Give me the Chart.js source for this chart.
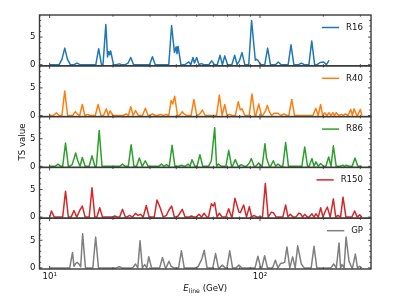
<!DOCTYPE html>
<html><head><meta charset="utf-8">
<script src="https://cdn.jsdelivr.net/npm/chart.js@4/dist/chart.umd.min.js"></script>
<style>
html,body{margin:0;padding:0;background:#fff;}
#wrap{position:relative;width:399px;height:299px;overflow:hidden;}
canvas{display:block;}
#xt{position:absolute;left:39.5px;width:331.5px;top:283px;text-align:center;font-family:'DejaVu Sans';font-size:8.6px;line-height:10px;color:#111;}
#xt sub{font-size:6.2px;vertical-align:-1.8px;line-height:0;}
</style>
</head><body>
<div id="wrap"><canvas id="c" width="399" height="299"></canvas><div id="xt"><i>E</i><sub>line</sub> (GeV)</div></div>
<script>
// ---- data (E in GeV, TS value) ----
const seriesNames = ['R16', 'R40', 'R86', 'R150', 'GP'];

const r16E  = [10, 11.45, 11.8, 12.15, 13.5, 17.1, 18.5, 18.85, 19.1, 19.3, 19.5, 21.4, 23.6, 24.3, 30.8, 38.0, 39.2, 39.9, 40.3, 40.8, 45.4, 45.9, 46.9, 48.0, 48.8, 50.0, 52.6, 58.9, 64.6, 68.0, 75.8, 80.0, 82.1, 91.2, 95.0, 96.4, 98.0, 108.7, 122.2, 140.4, 157.3, 176.2, 192.9, 200.8, 213];
const r16TS = [0, 1.0, 3.0, 1.0, 0.3, 2.9, 7.3, 1.4, 2.4, 1.8, 2.5, 0.15, 0.3, 1.3, 1.45, 7.1, 2.2, 3.2, 2.0, 3.3, 0.4, 0.5, 0, 1.3, 0.3, 1.3, 0.2, 0.7, 1.7, 1.6, 1.7, 0.8, 2.2, 8.0, 0.8, 1.0, 0.7, 3.0, 0.5, 3.6, 0.3, 4.3, 0.4, 0.5, 0.8];

const r40E  = [10, 10.76, 11.8, 13.25, 13.5, 14.3, 15.1, 17.0, 18.6, 19.0, 19.4, 23.1, 24.3, 25.6, 28.5, 30.8, 33.6, 35.9, 37.8, 38.5, 39.3, 42.7, 43.3, 48.5, 52.0, 53.2, 64.1, 68.0, 71.5, 78.8, 80.6, 82.1, 91.6, 98.6, 106.4, 108.4, 110.7, 116.6, 121.8, 130.1, 141.5, 184.1, 194.2, 198.5, 203, 212.8, 217.3, 222, 226, 230.5, 243.6, 249, 254.7, 270, 275, 279.8, 299.9, 305];
const r40TS = [0, 0.5, 4.45, 0.7, 0.3, 2.0, 0.2, 2.0, 1.2, 0, 0.85, 0.3, 1.6, 0.9, 1.3, 0.3, 0.2, 0.2, 2.7, 2.1, 3.5, 0.7, 0.4, 2.9, 0.4, 1.0, 3.7, 2.0, 0.2, 2.5, 1.0, 1.2, 3.9, 2.1, 0.9, 1.8, 0.7, 0.4, 0.4, 0.3, 2.9, 1.3, 2.0, 0, 0.5, 0.5, 0, 0.5, 0, 0.5, 0.2, 0, 0.3, 1.1, 0, 1.2, 1.1, 0];

const r86E  = [10, 10.96, 11.9, 12.8, 13.3, 13.6, 14.3, 15.9, 17.2, 22.2, 24.4, 26.7, 28.5, 34.0, 35.9, 38.2, 42.3, 45.5, 46.5, 47.5, 51.8, 58.7, 60.9, 62.2, 63.4, 71.0, 76.3, 81.5, 89.0, 90.9, 98.6, 105.6, 107.4, 115.7, 121.8, 132.4, 163.1, 176.6, 180.5, 184.5, 194.2, 212.1, 223.2, 248, 252.5, 257, 282.9, 305];
const r86TS = [0, 0.4, 4.2, 0.3, 2.4, 1.0, 1.6, 1.9, 6.5, 0.4, 3.9, 1.5, 1.0, 0.4, 0.3, 3.8, 0.2, 0.4, 0, 1.2, 2.1, 1.0, 7.0, 0, 0.4, 2.9, 1.2, 0.3, 0.6, 1.4, 0.6, 4.1, 1.5, 1.0, 0.4, 4.3, 3.5, 1.4, 0, 0.8, 0.5, 1.7, 3.7, 0.2, 0, 0.2, 1.5, 0];

const r150E  = [10, 10.2, 11.9, 13.05, 13.9, 14.3, 15.9, 17.3, 20.4, 22.2, 24.0, 25.6, 26.3, 27.0, 28.8, 32.4, 33.6, 35.9, 36.8, 38.0, 40.8, 42.7, 47.2, 51.3, 54.2, 58.7, 59.9, 60.9, 64.1, 71.0, 76.0, 79.4, 80.6, 83.6, 89.0, 93.6, 106, 113.3, 115.7, 132.4, 139.3, 152.8, 156, 159.5, 163, 176.6, 180.5, 184.5, 194.3, 204.5, 209, 223.2, 235, 248.2, 281.8, 297.8, 305];
const r150TS = [0, 1.1, 4.7, 1.2, 1.2, 2.0, 5.3, 1.7, 0.2, 1.4, 0.3, 0.7, 0.3, 0.5, 2.1, 3.1, 1.6, 0.3, 1.2, 2.0, 0.2, 1.4, 0.2, 0.5, 0.7, 2.4, 2.0, 2.6, 0.7, 1.5, 3.4, 0.9, 0.8, 2.2, 1.9, 0.3, 6.1, 0.9, 0.8, 2.2, 0.5, 0.7, 0.6, 0, 0.5, 0.6, 0, 0.6, 1.7, 1.1, 1.8, 3.3, 0.3, 3.6, 1.1, 0.4, 0];

const gpE  = [10, 12.85, 13.05, 13.3, 13.5, 13.8, 14.05, 14.35, 16.55, 21.4, 25.6, 26.9, 28.3, 28.95, 29.6, 34.4, 36.9, 37.8, 42.3, 50.7, 52.9, 54.3, 61.5, 66.2, 71.8, 79.4, 97.7, 105.2, 118.3, 125.3, 128.6, 130.9, 134.3, 142.9, 151.1, 157.2, 180.6, 223.9, 237.5, 241.5, 245.5, 251, 256.5, 264.9, 283.9, 297.8, 305];
const gpTS = [0, 2.8, 0.3, 0.8, 1.0, 0.7, 0.2, 6.2, 5.6, 0.2, 0.7, 4.9, 0.6, 0, 2.0, 1.9, 1.2, 0.3, 3.1, 0.2, 1.6, 3.2, 2.6, 0.5, 3.1, 0.5, 2.1, 2.2, 1.4, 0.8, 0.9, 1.0, 3.8, 2.0, 4.0, 0.7, 3.9, 0.7, 4.5, 0, 0.6, 0, 5.6, 1.2, 2.5, 0.3, 0];

const xMajorTicks = [10, 100];
const xMinorTicks = [9, 20, 30, 40, 50, 60, 70, 80, 90, 200, 300];
const yMajorTicks = [0, 5];
const yMinorTicks = [1, 2, 3, 4, 6, 7, 8];

// ---- styles ----
const colors = ['#1f77b4', '#ff7f0e', '#2ca02c', '#d62728', '#7f7f7f'];
const FONT = 'DejaVu Sans';
const FS = 8.6;
const frameColor = '#3a3a3a';

// Build the line table: each read peak gets a baseline-zero foot on a side
// where the neighbouring read point is not adjacent.
function buildLine(es, ts) {
  const W = 0.0135, TH = 0.020;
  const pts = [];
  for (let i = 0; i < es.length; i++) {
    const e = es[i], t = ts[i];
    if (i > 0 && t > 0) {
      const g = Math.log10(e / es[i - 1]);
      if (g > TH) pts.push({x: e / Math.pow(10, Math.min(W, g / 2)), y: 0});
    }
    pts.push({x: e, y: t});
    if (i < es.length - 1 && t > 0) {
      const g = Math.log10(es[i + 1] / e);
      if (g > TH) pts.push({x: e * Math.pow(10, Math.min(W, g / 2)), y: 0});
    }
  }
  return pts;
}

const allE = [r16E, r40E, r86E, r150E, gpE];
const allTS = [r16TS, r40TS, r86TS, r150TS, gpTS];
const yIds = ['y0', 'y1', 'y2', 'y3', 'y4'];

const datasets = seriesNames.map((name, i) => ({
  label: name,
  data: buildLine(allE[i], allTS[i]),
  yAxisID: yIds[i],
  borderColor: colors[i],
  backgroundColor: colors[i],
  borderWidth: 1.5,
  pointRadius: 0,
  tension: 0,
  fill: false,
  borderJoinStyle: 'round'
}));

const scales = {
  x: {
    type: 'logarithmic',
    position: 'bottom',
    min: 8.95,
    max: 337,
    grid: {display: false, drawTicks: false},
    border: {display: false},
    afterBuildTicks: s => { s.ticks = xMajorTicks.map(v => ({value: v, major: true})); },
    afterFit: s => { s.height = 30; },
    ticks: {
      autoSkip: false, maxRotation: 0, padding: 2.5,
      color: '#111', font: {family: FONT, size: FS},
      callback: v => v === 10 ? '10\u00b9' : (v === 100 ? '10\u00b2' : '')
    }
  }
};
// stacked y axes: defined bottom-to-top order reversed so R16 ends on top
for (let i = yIds.length - 1; i >= 0; i--) {
  scales[yIds[i]] = {
    type: 'linear',
    position: 'left',
    stack: 'ts',
    stackWeight: 1,
    min: -0.2,
    max: 9.0,
    grid: {display: false, drawTicks: false},
    border: {display: false},
    afterBuildTicks: s => { s.ticks = yMajorTicks.map(v => ({value: v})); },
    afterFit: s => { s.width = 39.5; },
    ticks: {padding: 4, color: '#111', font: {family: FONT, size: FS}},
    title: i === 2 ? {display: true, text: 'TS value', color: '#111', font: {family: FONT, size: FS}, padding: {top: 18, bottom: 0}} : {display: false}
  };
}

const panelPlugin = {
  id: 'panels',
  afterDatasetsDraw(chart) {
    const {ctx, chartArea: ca, scales: sc} = chart;
    const xs = sc.x;
    const L = ca.left, R = ca.right;
    ctx.save();
    yIds.forEach((id, i) => {
      const ys = sc[id];
      const top = ys.top, bot = ys.bottom;
      ctx.strokeStyle = frameColor;
      ctx.lineWidth = 0.9;
      // x ticks (inward, top and bottom)
      ctx.beginPath();
      xMajorTicks.concat(xMinorTicks).forEach(v => {
        const len = xMajorTicks.includes(v) ? 3 : 1.7;
        const px = xs.getPixelForValue(v);
        ctx.moveTo(px, top); ctx.lineTo(px, top + len);
        ctx.moveTo(px, bot); ctx.lineTo(px, bot - len);
      });
      // y ticks (inward, left and right)
      yMajorTicks.concat(yMinorTicks).forEach(v => {
        const len = yMajorTicks.includes(v) ? 3 : 1.7;
        const py = ys.getPixelForValue(v);
        ctx.moveTo(L, py); ctx.lineTo(L + len, py);
        ctx.moveTo(R, py); ctx.lineTo(R - len, py);
      });
      ctx.stroke();
      // frame
      ctx.lineWidth = 1.4;
      ctx.strokeRect(L, top, R - L, bot - top);
      // legend
      ctx.font = FS + 'px "' + FONT + '"';
      ctx.textBaseline = 'middle';
      ctx.textAlign = 'left';
      const ly = top + 12.5;
      const label = seriesNames[i];
      const tw = ctx.measureText(label).width;
      const tx = 363 - tw;
      ctx.strokeStyle = colors[i];
      ctx.lineWidth = 1.5;
      ctx.beginPath();
      ctx.moveTo(tx - 6.9 - 17.3, ly); ctx.lineTo(tx - 6.9, ly);
      ctx.stroke();
      ctx.fillStyle = '#111';
      ctx.fillText(label, tx, ly);
    });
    ctx.restore();
  }
};

new Chart(document.getElementById('c'), {
  type: 'line',
  data: {datasets},
  options: {
    responsive: false,
    animation: false,
    devicePixelRatio: 1,
    parsing: false,
    events: [],
    layout: {padding: {top: 15, right: 28, left: 0, bottom: 0}},
    plugins: {legend: {display: false}, tooltip: {enabled: false}},
    scales
  },
  plugins: [panelPlugin]
});
</script>
</body></html>
